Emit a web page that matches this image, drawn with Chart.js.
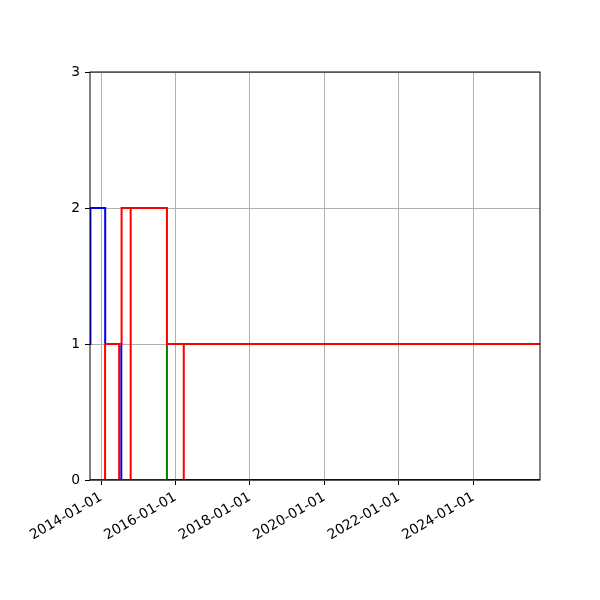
<!DOCTYPE html>
<html>
<head>
<meta charset="utf-8">
<script src="https://cdn.jsdelivr.net/npm/chart.js@4.4.1/dist/chart.umd.min.js"></script>
<style>
  html, body { margin: 0; padding: 0; background: #fff; }
  #wrap { width: 600px; height: 600px; }
</style>
</head>
<body>
<div id="wrap"><canvas id="stepChart" width="600" height="600"></canvas></div>
<script>
// ---- data ----
const xStart = '2013-09-15';
const xEnd = '2025-10-17';
const tickDates = ['2014-01-01', '2016-01-01', '2018-01-01', '2020-01-01', '2022-01-01', '2024-01-01'];

// blue step series
const blueDates = ['2013-09-15', '2013-09-19', '2014-02-11', '2014-07-19', '2025-10-17'];
const blueValues = [1, 2, 1, 0, 0];

// green step series
const greenDates = ['2013-09-15', '2015-10-10', '2025-10-17'];
const greenValues = [0, 1, 1];

// red step series (several overlapping ones)
const redADates = ['2013-09-15', '2014-02-10', '2014-07-22', '2014-10-19'];
const redAValues = [0, 1, 2, 0];
const redBDates = ['2014-02-10', '2014-06-28'];
const redBValues = [1, 0];
const redCDates = ['2014-10-19', '2015-10-10', '2016-03-23'];
const redCValues = [2, 1, 0];
const redDDates = ['2015-10-10', '2025-10-17'];
const redDValues = [1, 1];

// ---- helpers ----
function toPoints(dates, values) {
  return dates.map((d, i) => ({ x: Date.parse(d), y: values[i] }));
}

function stepSet(dates, values, color, order) {
  return {
    data: toPoints(dates, values),
    borderColor: color,
    backgroundColor: color,
    borderWidth: 2,
    pointRadius: 0,
    stepped: true,
    fill: false,
    order: order,
  };
}

function fmtDate(ms) {
  return new Date(ms).toISOString().slice(0, 10);
}

// black box round the plot area, like the reference frame
const framePlugin = {
  id: 'frame',
  afterDatasetsDraw(chart) {
    const { ctx, chartArea: a } = chart;
    ctx.save();
    ctx.strokeStyle = '#000';
    ctx.lineWidth = 1;
    ctx.strokeRect(a.left, a.top, a.right - a.left, a.bottom - a.top);
    ctx.restore();
  },
};

Chart.defaults.font.family = "'DejaVu Sans', sans-serif";
Chart.defaults.font.size = 13.9;
Chart.defaults.color = '#000';

new Chart(document.getElementById('stepChart'), {
  type: 'line',
  data: {
    datasets: [
      stepSet(redADates, redAValues, '#ff0000', 1),
      stepSet(redBDates, redBValues, '#ff0000', 1),
      stepSet(redCDates, redCValues, '#ff0000', 1),
      stepSet(redDDates, redDValues, '#ff0000', 1),
      stepSet(greenDates, greenValues, '#008000', 2),
      stepSet(blueDates, blueValues, '#0000ff', 3),
    ],
  },
  options: {
    responsive: false,
    animation: false,
    devicePixelRatio: 1,
    layout: { padding: { top: 72, right: 60, left: 0, bottom: 0 } },
    plugins: {
      legend: { display: false },
      tooltip: { enabled: false },
    },
    scales: {
      x: {
        type: 'linear',
        min: Date.parse(xStart),
        max: Date.parse(xEnd),
        afterBuildTicks(scale) {
          scale.ticks = tickDates.map(d => ({ value: Date.parse(d) }));
        },
        afterFit(scale) { scale.height = 120; },
        border: { display: false },
        grid: {
          color: '#b0b0b0',
          lineWidth: 1,
          tickColor: '#000',
          tickLength: 5,
        },
        ticks: {
          autoSkip: false,
          minRotation: 30,
          maxRotation: 30,
          padding: 4,
          callback: value => fmtDate(value),
        },
      },
      y: {
        min: 0,
        max: 3,
        afterFit(scale) { scale.width = 90; },
        border: { display: false },
        grid: {
          color: '#b0b0b0',
          lineWidth: 1,
          tickColor: '#000',
          tickLength: 5,
        },
        ticks: {
          stepSize: 1,
          padding: 5,
        },
      },
    },
  },
  plugins: [framePlugin],
});
</script>
</body>
</html>
